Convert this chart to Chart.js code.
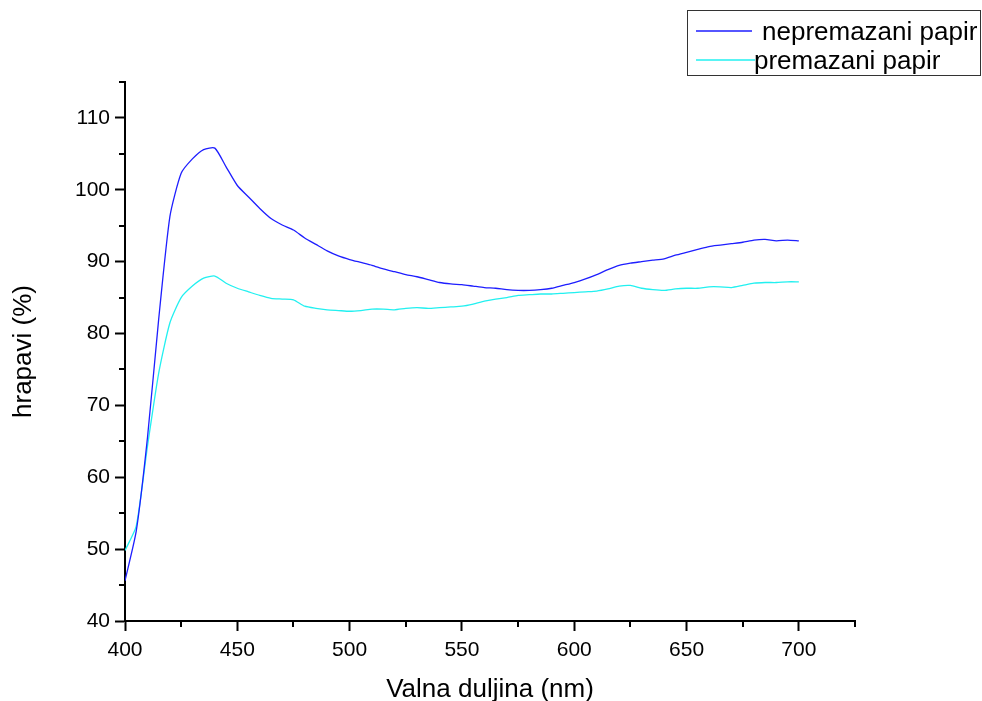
<!DOCTYPE html>
<html>
<head>
<meta charset="utf-8">
<script src="https://cdn.jsdelivr.net/npm/chart.js@4.4.0/dist/chart.umd.min.js"></script>
<style>
  body { margin: 0; background: #fff; }
  canvas { display: block; }
</style>
</head>
<body>
<canvas id="chart" width="982" height="701"></canvas>
<script>
// wavelength (nm)
const wavelengths = [
  400, 405, 410, 415, 420, 425, 430, 435, 440, 445,
  450, 455, 460, 465, 470, 475, 480, 485, 490, 495,
  500, 505, 510, 515, 520, 525, 530, 535, 540, 545,
  550, 555, 560, 565, 570, 575, 580, 585, 590, 595,
  600, 605, 610, 615, 620, 625, 630, 635, 640, 645,
  650, 655, 660, 665, 670, 675, 680, 685, 690, 695, 700
];

// hrapavi (%) - uncoated paper
const nepremazani = [
  45.6, 52.5, 65.5, 82.0, 96.3, 102.3, 104.3, 105.6, 105.8, 103.2,
  100.6, 99.0, 97.4, 96.0, 95.1, 94.4, 93.3, 92.4, 91.5, 90.8,
  90.3, 89.9, 89.5, 89.0, 88.6, 88.2, 87.9, 87.5, 87.1, 86.9,
  86.8, 86.6, 86.4, 86.3, 86.1, 86.0, 86.0, 86.1, 86.3, 86.7,
  87.1, 87.6, 88.2, 88.9, 89.5, 89.8, 90.0, 90.2, 90.4, 90.9,
  91.3, 91.7, 92.1, 92.3, 92.5, 92.7, 93.0, 93.1, 92.9, 93.0, 92.9
];

// hrapavi (%) - coated paper
const premazani = [
  49.8, 53.2, 64.3, 74.5, 81.5, 85.0, 86.6, 87.7, 88.0, 87.0,
  86.3, 85.8, 85.3, 84.9, 84.8, 84.7, 83.8, 83.5, 83.3, 83.2,
  83.1, 83.2, 83.4, 83.4, 83.3, 83.5, 83.6, 83.5, 83.6, 83.7,
  83.8, 84.1, 84.5, 84.8, 85.0, 85.3, 85.4, 85.5, 85.5, 85.6,
  85.7, 85.8, 85.9, 86.2, 86.6, 86.7, 86.3, 86.1, 86.0, 86.2,
  86.3, 86.3, 86.5, 86.5, 86.4, 86.7, 87.0, 87.1, 87.1, 87.2, 87.2
];

const seriesLabels = ["nepremazani papir", "premazani papir"];
const xMinorTicks = [425, 475, 525, 575, 625, 675, 725];
const yMinorTicks = [45, 55, 65, 75, 85, 95, 105, 115];

const FONT = "'Liberation Sans', Arial, sans-serif";
const toPoints = vals => vals.map((v, i) => ({ x: wavelengths[i], y: v }));

// small outward minor ticks, Origin style
const minorTicks = {
  id: "minorTicks",
  afterDraw(chart) {
    const { ctx, scales: { x, y } } = chart;
    ctx.save();
    ctx.strokeStyle = "#000";
    ctx.lineWidth = 2;
    ctx.beginPath();
    xMinorTicks.forEach(v => {
      const px = Math.round(x.getPixelForValue(v));
      ctx.moveTo(px, x.top);
      ctx.lineTo(px, x.top + 6);
    });
    yMinorTicks.forEach(v => {
      const py = Math.round(y.getPixelForValue(v));
      ctx.moveTo(y.right, py);
      ctx.lineTo(y.right - 6, py);
    });
    ctx.stroke();
    ctx.restore();
  }
};

// boxed legend in the top right corner
const boxLegend = {
  id: "boxLegend",
  afterDraw(chart) {
    const ctx = chart.ctx;
    const ds = chart.data.datasets;
    ctx.save();
    ctx.strokeStyle = "#333";
    ctx.lineWidth = 1;
    ctx.strokeRect(687.5, 10.5, 293, 65);
    ctx.font = "26px " + FONT;
    ctx.fillStyle = "#000";
    ctx.textBaseline = "alphabetic";
    const rows = [
      { y: 31, x1: 696, x2: 752, tx: 762 },
      { y: 60, x1: 696, x2: 755, tx: 754 }
    ];
    rows.forEach((r, i) => {
      ctx.strokeStyle = ds[i].borderColor;
      ctx.lineWidth = 1.3;
      ctx.beginPath();
      ctx.moveTo(r.x1, r.y);
      ctx.lineTo(r.x2, r.y);
      ctx.stroke();
      ctx.fillText(ds[i].label, r.tx, r.y + 9);
    });
    ctx.restore();
  }
};

new Chart(document.getElementById("chart"), {
  type: "line",
  data: {
    datasets: [
      {
        label: seriesLabels[0],
        data: toPoints(nepremazani),
        borderColor: "#1e1eff",
        borderWidth: 1.3,
        pointRadius: 0,
        tension: 0.2
      },
      {
        label: seriesLabels[1],
        data: toPoints(premazani),
        borderColor: "#22f0f0",
        borderWidth: 1.3,
        pointRadius: 0,
        tension: 0.2
      }
    ]
  },
  options: {
    responsive: false,
    animation: false,
    layout: { padding: { top: 82, right: 127, left: 8, bottom: 0 } },
    plugins: {
      legend: { display: false },
      tooltip: { enabled: false }
    },
    scales: {
      x: {
        type: "linear",
        min: 400,
        max: 725,
        afterFit: s => { s.height = 80; },
        ticks: {
          stepSize: 50,
          includeBounds: false,
          color: "#000",
          padding: 7,
          maxRotation: 0,
          font: { family: FONT, size: 21 }
        },
        grid: {
          drawOnChartArea: false,
          drawTicks: true,
          tickLength: 10,
          tickWidth: 2,
          tickColor: "#000"
        },
        border: { display: true, color: "#000", width: 2 },
        title: {
          display: true,
          text: "Valna duljina (nm)",
          color: "#000",
          padding: { top: 0, bottom: -4 },
          font: { family: FONT, size: 26 }
        }
      },
      y: {
        min: 40,
        max: 115,
        afterFit: s => { s.width = 117; },
        ticks: {
          stepSize: 10,
          includeBounds: false,
          color: "#000",
          padding: 5,
          font: { family: FONT, size: 21 }
        },
        grid: {
          drawOnChartArea: false,
          drawTicks: true,
          tickLength: 10,
          tickWidth: 2,
          tickColor: "#000"
        },
        border: { display: true, color: "#000", width: 2 },
        title: {
          display: true,
          text: "hrapavi (%)",
          color: "#000",
          padding: { top: 0, bottom: 0 },
          font: { family: FONT, size: 26 }
        }
      }
    }
  },
  plugins: [minorTicks, boxLegend]
});
</script>
</body>
</html>
